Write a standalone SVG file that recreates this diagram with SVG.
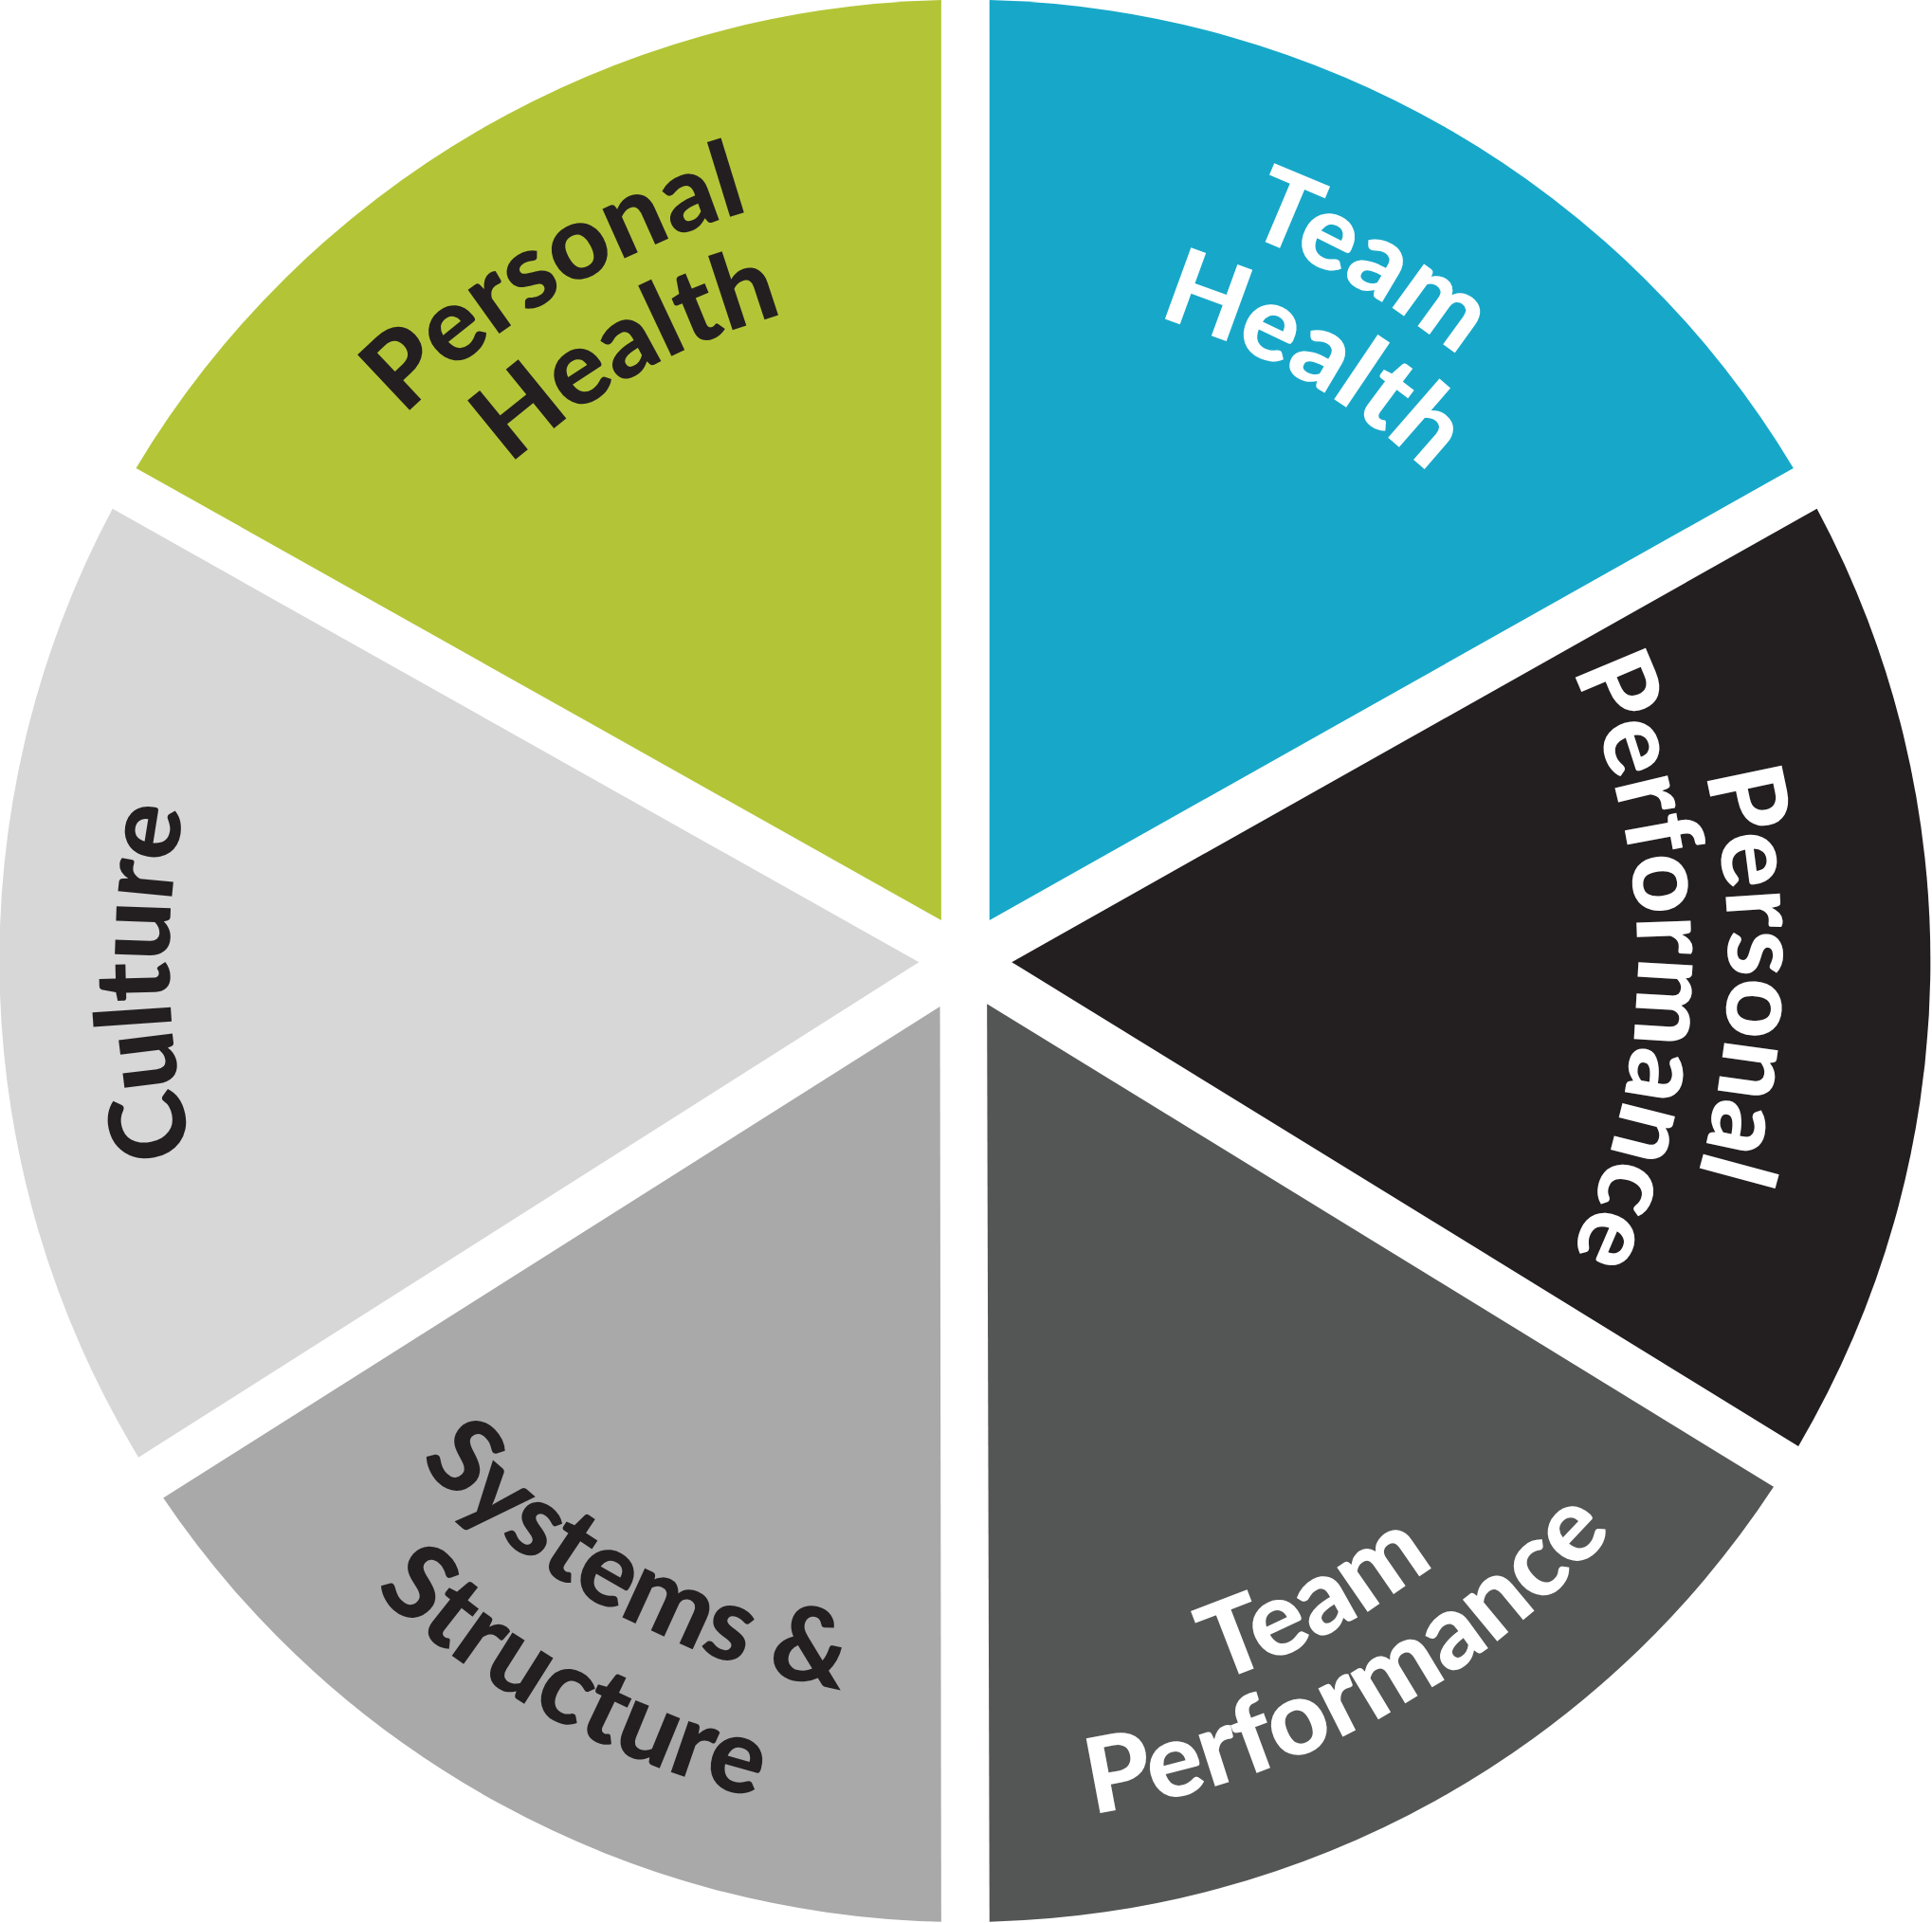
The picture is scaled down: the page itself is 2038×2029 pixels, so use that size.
<svg xmlns="http://www.w3.org/2000/svg" width="2038" height="2029" viewBox="0 0 2038 2029">
<style>
.t{font-family:Lato,"DejaVu Sans",sans-serif;font-weight:900;font-size:85px;text-anchor:middle}
.d{fill:#231f20}.w{fill:#ffffff}
</style>
<defs>
<path id="ph1" d="M220.3,1090.3 A640 640 0 0 1 1339.7,469.7"/>
<path id="ph2" d="M303.3,1044.2 A545 545 0 0 1 1256.7,515.8"/>
<path id="th1" d="M225.8,460 A640 640 0 0 1 1334.2,1100"/>
<path id="th2" d="M308,507.5 A545 545 0 0 1 1252,1052.5"/>
<path id="pp1" d="M790.8,160.1 A620 620 0 0 1 769.2,1399.9"/>
<path id="pp2" d="M789.6,232.1 A548 548 0 0 1 770.4,1327.9"/>
<path id="cu" d="M796.8,1422.8 A643 643 0 0 1 763.2,137.2"/>
<path id="tp1" d="M235.1,1075.9 A620 620 0 0 0 1324.9,484.1"/>
<path id="tp2" d="M164.8,1114 A700 700 0 0 0 1395.2,446"/>
<path id="ss1" d="M252.7,493.7 A600 600 0 0 0 1307.3,1066.3"/>
<path id="ss2" d="M164.8,446 A700 700 0 0 0 1395.2,1114"/>
</defs>
<rect width="2038" height="2029" fill="#ffffff"/>
<g transform="scale(1.3047,1.2998)">
<g id="personal-health">
<path d="M761,747 L110,380 A780 780 0 0 1 761,0 Z" fill="#b3c537"/>
<text class="t d"><textPath href="#ph1" startOffset="49%">Personal</textPath></text>
<text class="t d"><textPath href="#ph2" startOffset="50%">Health</textPath></text>
</g>
<g id="team-health">
<path d="M800,747 L800,0 A780 780 0 0 1 1450,380 Z" fill="#17a8c9"/>
<text class="t w"><textPath href="#th1" startOffset="50%">Team</textPath></text>
<text class="t w"><textPath href="#th2" startOffset="50%">Health</textPath></text>
</g>
<g id="personal-performance">
<path d="M818,781 L1469,413 A780 780 0 0 1 1454,1174 Z" fill="#231f20"/>
<text class="t w"><textPath href="#pp1" startOffset="50%">Personal</textPath></text>
<text class="t w"><textPath href="#pp2" startOffset="49.5%">Performance</textPath></text>
</g>
<g id="team-performance">
<path d="M798,815 L1434,1207 A780 780 0 0 1 800,1560 Z" fill="#545655"/>
<text class="t w"><textPath href="#tp1" startOffset="50%">Team</textPath></text>
<text class="t w"><textPath href="#tp2" startOffset="50%">Performance</textPath></text>
</g>
<g id="systems-structure">
<path d="M760,817 L761,1560 A780 780 0 0 1 132,1216 Z" fill="#a9a9a9"/>
<text class="t d"><textPath href="#ss1" startOffset="50%">Systems &amp;</textPath></text>
<text class="t d"><textPath href="#ss2" startOffset="50%">Structure</textPath></text>
</g>
<g id="culture">
<path d="M743,781 L112,1183 A780 780 0 0 1 91,413 Z" fill="#d7d7d7"/>
<text class="t d"><textPath href="#cu" startOffset="50%">Culture</textPath></text>
</g>
</g>
<g id="connectors"></g>
</svg>
